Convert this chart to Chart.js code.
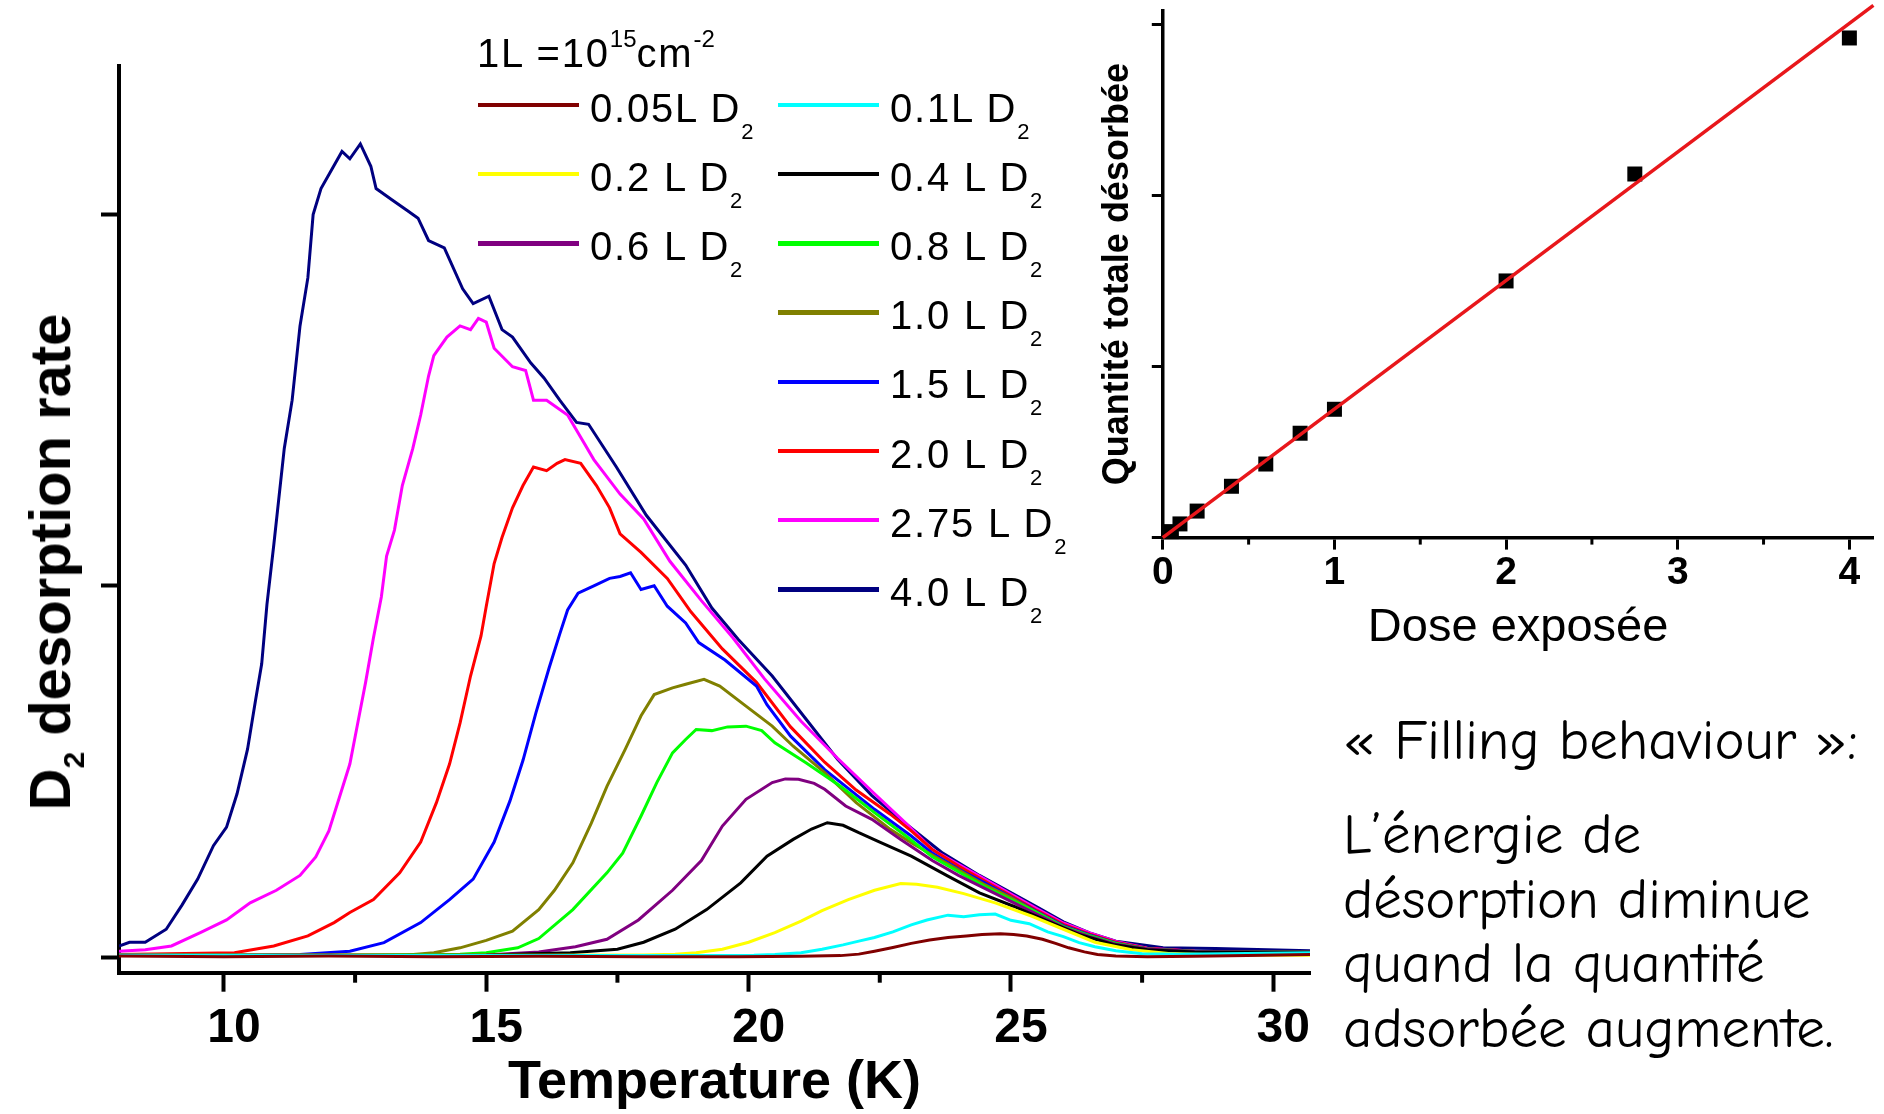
<!DOCTYPE html>
<html lang="fr">
<head>
<meta charset="utf-8">
<title>Désorption de D2 – filling behaviour</title>
<script src="https://cdn.jsdelivr.net/npm/chart.js@4.4.1/dist/chart.umd.min.js"></script>
<style>
  html, body { margin: 0; padding: 0; background: #fff; }
  body {
    width: 1884px; height: 1114px; position: relative; overflow: hidden;
    font-family: 'Liberation Sans', Arial, Helvetica, sans-serif; color: #000;
  }
  canvas { position: absolute; top: 0; }
  #tpdChart { left: 0; }
  #doseChart { left: 1080px; }

  .ytitle {
    position: absolute; left: 50px; top: 562px;
    transform: translate(-50%, -50%) rotate(-90deg);
    font-size: 58px; font-weight: bold; line-height: 1; white-space: nowrap;
  }
  .ytitle sub { font-size: 30px; position: relative; top: 14px; vertical-align: baseline; }

  .unit, .item {
    position: absolute; font-size: 40px; line-height: 40px;
    letter-spacing: 1.8px; white-space: nowrap;
  }
  .unit { left: 477px; top: 33px; }
  .unit sup { font-size: 24px; position: relative; top: -20px; vertical-align: baseline; letter-spacing: 0; }
  .item .swatch { position: absolute; left: 0; top: 15.25px; width: 101px; height: 4.5px; }
  .item .lab { position: absolute; left: 112px; top: 0; }
  .item sub { font-size: 22px; position: relative; top: 17px; vertical-align: baseline; }

  .note {
    position: absolute; left: 1343px; white-space: nowrap;
    font-family: 'Comic Sans MS', 'Comic Neue', Lato, sans-serif; font-size: 57px;
  }
  .note.head { top: 708px; line-height: 65px; }
  .note.body { top: 803px; line-height: 64.7px; }
</style>
</head>
<body>
<canvas id="tpdChart" width="1320" height="1114"></canvas>
<canvas id="doseChart" width="804" height="680"></canvas>

<div class="ytitle">D<sub>2</sub> desorption rate</div>
<div class="unit">1L =10<sup>15</sup>cm<sup>-2</sup></div>
<div id="legend"></div>

<div class="note head">« Filling behaviour »:</div>
<div class="note body">L’énergie de<br>désorption diminue<br>quand la quantité<br>adsorbée augmente.</div>

<script>
// Spectres TPD : température (K) / taux de désorption de D2 (u.a.), une paire par dose
const temp005 = [8.0, 10.0, 12.0, 14.0, 16.0, 18.0, 19.8, 21.0, 21.75, 22.1, 22.4, 22.75, 23.1, 23.45, 23.8, 24.15, 24.45, 24.8, 25.05, 25.3, 25.6, 25.85, 26.1, 26.4, 26.65, 27.0, 27.6, 28.5, 29.5, 30.7];
const rate005 = [0.003, 0.001, 0.003, 0.001, 0.002, 0.001, 0.001, 0.002, 0.004, 0.008, 0.016, 0.026, 0.037, 0.046, 0.053, 0.057, 0.061, 0.063, 0.061, 0.057, 0.048, 0.037, 0.025, 0.014, 0.007, 0.003, 0.001, 0.002, 0.004, 0.007];

const temp01 = [8.0, 12.0, 16.0, 19.0, 20.1, 20.5, 21.0, 21.4, 21.8, 22.1, 22.4, 22.75, 23.1, 23.4, 23.8, 24.1, 24.4, 24.7, 25.0, 25.35, 25.7, 26.0, 26.3, 26.6, 27.0, 27.5, 28.2, 29.5, 30.7];
const rate01 = [0.005, 0.004, 0.004, 0.004, 0.005, 0.007, 0.012, 0.021, 0.033, 0.043, 0.053, 0.068, 0.087, 0.1, 0.113, 0.109, 0.114, 0.116, 0.099, 0.09, 0.068, 0.055, 0.039, 0.028, 0.017, 0.009, 0.008, 0.01, 0.012];

const temp02 = [8.0, 12.0, 16.0, 18.0, 18.6, 19.0, 19.5, 20.0, 20.5, 21.0, 21.4, 21.9, 22.4, 22.9, 23.2, 23.6, 24.1, 24.7, 25.4, 26.0, 26.6, 27.3, 28.0, 29.0, 30.7];
const rate02 = [0.005, 0.005, 0.005, 0.006, 0.008, 0.012, 0.021, 0.04, 0.066, 0.097, 0.125, 0.155, 0.18, 0.198, 0.196, 0.188, 0.171, 0.146, 0.11, 0.075, 0.04, 0.02, 0.01, 0.006, 0.005];

const temp04 = [8.0, 12.0, 15.0, 16.6, 17.5, 18.0, 18.6, 19.2, 19.85, 20.35, 20.85, 21.2, 21.5, 21.8, 22.1, 22.5, 23.1, 23.8, 24.4, 25.05, 25.7, 26.3, 26.95, 27.6, 28.5, 30.7];
const rate04 = [0.005, 0.005, 0.006, 0.012, 0.021, 0.04, 0.075, 0.128, 0.2, 0.272, 0.317, 0.345, 0.362, 0.355, 0.335, 0.31, 0.272, 0.218, 0.173, 0.137, 0.097, 0.061, 0.034, 0.02, 0.014, 0.013];

const temp06 = [8.0, 12.0, 15.0, 16.0, 16.7, 17.3, 17.9, 18.55, 19.1, 19.5, 19.95, 20.45, 20.7, 20.95, 21.25, 21.45, 21.85, 22.35, 22.9, 23.5, 24.0, 24.5, 25.0, 25.5, 26.0, 26.5, 27.0, 27.6, 28.5, 30.7];
const rate06 = [0.005, 0.005, 0.006, 0.014, 0.028, 0.048, 0.1, 0.18, 0.26, 0.353, 0.425, 0.47, 0.48, 0.479, 0.468, 0.452, 0.407, 0.371, 0.317, 0.26, 0.22, 0.185, 0.15, 0.115, 0.08, 0.055, 0.035, 0.022, 0.015, 0.013];

const temp08 = [8.0, 12.0, 14.5, 15.0, 15.6, 16.0, 16.65, 17.3, 17.6, 17.95, 18.25, 18.55, 18.8, 19.0, 19.3, 19.6, 19.95, 20.25, 20.5, 21.1, 21.75, 22.4, 23.0, 23.5, 24.0, 24.5, 25.0, 25.5, 26.0, 26.5, 27.0, 27.6, 28.5, 30.7];
const rate08 = [0.005, 0.005, 0.008, 0.012, 0.025, 0.05, 0.128, 0.227, 0.28, 0.38, 0.47, 0.55, 0.586, 0.613, 0.61, 0.62, 0.622, 0.61, 0.577, 0.523, 0.46, 0.389, 0.326, 0.27, 0.23, 0.19, 0.155, 0.12, 0.082, 0.058, 0.037, 0.022, 0.015, 0.013];

const temp10 = [8.0, 12.0, 13.5, 14.0, 14.5, 15.0, 15.5, 16.0, 16.3, 16.65, 17.0, 17.3, 17.65, 17.95, 18.2, 18.55, 18.8, 19.15, 19.45, 19.95, 20.45, 20.85, 21.45, 22.05, 22.7, 23.1, 23.5, 24.0, 24.5, 25.0, 25.5, 26.0, 26.5, 27.0, 27.6, 28.5, 30.7];
const rate10 = [0.005, 0.005, 0.006, 0.012, 0.025, 0.045, 0.07, 0.128, 0.18, 0.254, 0.36, 0.46, 0.56, 0.65, 0.707, 0.725, 0.735, 0.748, 0.73, 0.676, 0.622, 0.568, 0.497, 0.416, 0.344, 0.308, 0.275, 0.235, 0.195, 0.16, 0.12, 0.082, 0.058, 0.037, 0.022, 0.015, 0.013];

const temp15 = [8.0, 10.0, 11.45, 12.4, 13.05, 13.75, 14.3, 14.75, 15.15, 15.45, 15.7, 15.95, 16.2, 16.4, 16.55, 16.75, 17.05, 17.35, 17.55, 17.75, 17.95, 18.2, 18.45, 18.8, 19.05, 19.55, 20.15, 20.35, 20.8, 21.45, 22.4, 23.1, 23.5, 24.0, 24.5, 25.0, 25.5, 26.0, 26.5, 27.0, 27.6, 28.5, 30.7];
const rate15 = [0.005, 0.005, 0.007, 0.016, 0.039, 0.093, 0.155, 0.21, 0.31, 0.42, 0.53, 0.66, 0.78, 0.87, 0.935, 0.98, 1.0, 1.02, 1.025, 1.035, 0.99, 1.0, 0.945, 0.9, 0.847, 0.8, 0.73, 0.68, 0.595, 0.505, 0.398, 0.326, 0.28, 0.237, 0.2, 0.162, 0.122, 0.085, 0.06, 0.038, 0.022, 0.015, 0.013];

const temp20 = [8.0, 10.2, 10.95, 11.6, 12.1, 12.4, 12.85, 13.35, 13.75, 14.05, 14.3, 14.5, 14.7, 14.9, 15.0, 15.15, 15.3, 15.5, 15.7, 15.9, 16.15, 16.35, 16.5, 16.8, 17.1, 17.35, 17.55, 17.95, 18.45, 18.9, 19.5, 20.15, 20.8, 21.45, 22.05, 22.7, 23.1, 23.5, 24.0, 24.5, 25.0, 25.5, 26.0, 26.5, 27.0, 27.6, 28.5, 30.7];
const rate20 = [0.007, 0.012, 0.03, 0.057, 0.093, 0.12, 0.155, 0.227, 0.31, 0.416, 0.52, 0.63, 0.757, 0.865, 0.945, 1.06, 1.13, 1.21, 1.27, 1.32, 1.31, 1.33, 1.34, 1.33, 1.27, 1.21, 1.14, 1.09, 1.02, 0.93, 0.83, 0.74, 0.62, 0.525, 0.45, 0.385, 0.34, 0.29, 0.245, 0.205, 0.165, 0.125, 0.088, 0.062, 0.04, 0.023, 0.016, 0.013];

const temp275 = [8.0, 8.5, 9.0, 9.55, 10.05, 10.5, 11.0, 11.45, 11.75, 12.0, 12.2, 12.4, 12.55, 12.7, 12.85, 13.0, 13.1, 13.25, 13.4, 13.6, 13.75, 13.9, 14.0, 14.25, 14.5, 14.7, 14.85, 15.0, 15.15, 15.5, 15.75, 15.9, 16.15, 16.55, 17.05, 17.55, 18.0, 18.5, 19.1, 19.7, 20.3, 21.0, 21.7, 22.4, 23.0, 23.5, 24.0, 24.5, 25.0, 25.5, 26.0, 26.5, 27.0, 27.6, 28.5, 30.7];
const rate275 = [0.016, 0.02, 0.03, 0.066, 0.1, 0.146, 0.18, 0.22, 0.27, 0.34, 0.43, 0.52, 0.63, 0.74, 0.86, 0.97, 1.08, 1.15, 1.27, 1.37, 1.46, 1.565, 1.62, 1.67, 1.7, 1.69, 1.72, 1.71, 1.64, 1.59, 1.58, 1.5, 1.5, 1.46, 1.34, 1.247, 1.18, 1.066, 0.96, 0.86, 0.75, 0.635, 0.535, 0.44, 0.36, 0.29, 0.25, 0.21, 0.17, 0.13, 0.092, 0.065, 0.042, 0.024, 0.016, 0.013];

const temp40 = [8.0, 8.2, 8.5, 8.9, 9.2, 9.5, 9.8, 10.05, 10.25, 10.45, 10.6, 10.72, 10.82, 10.95, 11.15, 11.3, 11.45, 11.6, 11.7, 11.85, 12.05, 12.25, 12.4, 12.6, 12.8, 12.9, 13.2, 13.5, 13.7, 13.9, 14.2, 14.55, 14.75, 15.05, 15.3, 15.5, 15.85, 16.1, 16.4, 16.72, 16.95, 17.48, 18.05, 18.8, 19.3, 19.8, 20.45, 21.1, 21.7, 22.35, 22.9, 23.7, 24.4, 25.05, 25.5, 26.0, 26.5, 27.0, 27.9, 28.9, 30.7];
const rate40 = [0.03, 0.04, 0.04, 0.075, 0.14, 0.21, 0.3, 0.35, 0.44, 0.56, 0.69, 0.79, 0.95, 1.11, 1.37, 1.5, 1.7, 1.83, 2.0, 2.07, 2.12, 2.17, 2.15, 2.19, 2.13, 2.07, 2.04, 2.01, 1.99, 1.93, 1.91, 1.8, 1.76, 1.78, 1.69, 1.67, 1.6, 1.56, 1.5, 1.44, 1.435, 1.32, 1.19, 1.056, 0.94, 0.856, 0.757, 0.64, 0.532, 0.435, 0.37, 0.28, 0.22, 0.17, 0.135, 0.095, 0.065, 0.043, 0.025, 0.023, 0.017];

const doseLabels = ['0.05L', '0.1L', '0.2 L', '0.4 L', '0.6 L', '0.8 L', '1.0 L', '1.5 L', '2.0 L', '2.75 L', '4.0 L'];
const lineColors = ['#800000', '#00ffff', '#ffff00', '#000000', '#800080', '#00ff00', '#808000', '#0000ff', '#ff0000', '#ff00ff', '#000080'];
const temps = [temp005, temp01, temp02, temp04, temp06, temp08, temp10, temp15, temp20, temp275, temp40];
const rates = [rate005, rate01, rate02, rate04, rate06, rate08, rate10, rate15, rate20, rate275, rate40];

// Encart : quantité totale désorbée en fonction de la dose
const doseExposed = [0.05, 0.1, 0.2, 0.4, 0.6, 0.8, 1.0, 2.0, 2.75, 4.0];
const totalDesorbed = [0.035, 0.08, 0.155, 0.3, 0.43, 0.61, 0.75, 1.5, 2.125, 2.92];
const fitDose = [0, 4.14];
const fitTotal = [0, 3.11];

Chart.defaults.font.family = "'Liberation Sans', Arial, Helvetica, sans-serif";
Chart.defaults.color = '#000';

// petites graduations entre les graduations principales de l'axe x
const minorTicks = {
  id: 'minorTicks',
  afterDraw(chart, args, opts) {
    const scale = chart.scales.x;
    const ctx = chart.ctx;
    ctx.save();
    ctx.strokeStyle = '#000';
    ctx.lineWidth = opts.width;
    for (let v = Math.ceil(scale.min / opts.step) * opts.step; v <= scale.max + 1e-9; v += opts.step) {
      const r = v / opts.major;
      if (Math.abs(r - Math.round(r)) < 1e-6) continue;
      const px = scale.getPixelForValue(v);
      ctx.beginPath();
      ctx.moveTo(px, scale.top);
      ctx.lineTo(px, scale.top + opts.length);
      ctx.stroke();
    }
    ctx.restore();
  }
};

const axisBorder = width => ({ color: '#000', width: width });
const axisGrid = (len, width) => ({
  drawOnChartArea: false, drawTicks: true, tickLength: len,
  tickWidth: width, tickColor: '#000', color: '#000'
});

const tpdChart = new Chart(document.getElementById('tpdChart'), {
  type: 'line',
  data: {
    datasets: doseLabels.map((lab, i) => ({
      label: lab + ' D2',
      data: temps[i].map((t, k) => ({ x: t, y: rates[i][k] })),
      borderColor: lineColors[i],
      borderWidth: 3,
      pointRadius: 0,
      tension: 0,
      fill: false
    }))
  },
  options: {
    responsive: false,
    animation: false,
    events: [],
    layout: { padding: { top: 66, right: 10, bottom: 0, left: 0 } },
    plugins: {
      legend: { display: false },
      tooltip: { enabled: false },
      minorTicks: { step: 2.5, major: 5, length: 10, width: 4 }
    },
    scales: {
      x: {
        type: 'linear', min: 8, max: 30.7,
        border: axisBorder(4),
        grid: axisGrid(19, 4),
        ticks: {
          stepSize: 5, includeBounds: false, padding: 8.5, labelOffset: 10, maxRotation: 0,
          font: { size: 48, weight: 'bold' }
        },
        title: {
          display: true, text: 'Temperature (K)',
          font: { size: 54, weight: 'bold', lineHeight: 1 },
          padding: { top: 0, bottom: 4 }
        },
        afterFit: s => { s.height = 141.3; }
      },
      y: {
        type: 'linear', min: -0.042, max: 2.4,
        border: axisBorder(4),
        grid: axisGrid(18, 4),
        ticks: { stepSize: 1, includeBounds: false, display: false },
        afterFit: s => { s.width = 119; }
      }
    }
  },
  plugins: [minorTicks]
});

const doseChart = new Chart(document.getElementById('doseChart'), {
  type: 'scatter',
  data: {
    datasets: [
      {
        label: 'ajustement linéaire',
        data: fitDose.map((d, i) => ({ x: d, y: fitTotal[i] })),
        showLine: true,
        borderColor: '#e8171b',
        borderWidth: 3.5,
        pointRadius: 0,
        clip: false
      },
      {
        label: 'quantité désorbée',
        data: doseExposed.map((d, i) => ({ x: d, y: totalDesorbed[i] })),
        pointStyle: 'rect',
        pointRadius: 10.6,
        backgroundColor: '#000',
        borderWidth: 0,
        clip: false
      }
    ]
  },
  options: {
    responsive: false,
    animation: false,
    events: [],
    layout: { padding: { top: 9.5, right: 0, bottom: 0, left: 0 } },
    plugins: {
      legend: { display: false },
      tooltip: { enabled: false },
      minorTicks: { step: 0.5, major: 1, length: 7, width: 3 }
    },
    scales: {
      x: {
        min: 0, max: 4.14,
        border: axisBorder(3.5),
        grid: axisGrid(12, 3),
        ticks: { stepSize: 1, includeBounds: false, padding: 0, maxRotation: 0, font: { size: 39, weight: 'bold' } },
        title: {
          display: true, text: 'Dose exposée',
          font: { size: 47, lineHeight: 1 },
          padding: { top: 0, bottom: 28 }
        },
        afterFit: s => { s.height = 142.4; }
      },
      y: {
        min: 0, max: 3.08,
        border: axisBorder(3.5),
        grid: axisGrid(11, 3),
        ticks: { stepSize: 1, includeBounds: false, display: false },
        title: {
          display: true, text: 'Quantité totale désorbée',
          font: { size: 36, weight: 'bold', lineHeight: 1 },
          padding: { top: 20.5, bottom: 0 }
        },
        afterFit: s => { s.width = 82.8; }
      }
    }
  },
  plugins: [minorTicks]
});

// Légende sur deux colonnes, construite à partir des jeux de données
const legendSlots = [[0, 0], [1, 0], [0, 1], [1, 1], [0, 2], [1, 2], [1, 3], [1, 4], [1, 5], [1, 6], [1, 7]];
const colLeft = [478, 778];
const legendBox = document.getElementById('legend');
tpdChart.data.datasets.forEach((ds, i) => {
  const [col, row] = legendSlots[i];
  const lineY = 105 + 69.2 * row;
  const item = document.createElement('div');
  item.className = 'item';
  item.style.left = colLeft[col] + 'px';
  item.style.top = (lineY - 17.5) + 'px';
  item.innerHTML = '<span class="swatch" style="background:' + ds.borderColor + '"></span>' +
    '<span class="lab">' + doseLabels[i] + ' D<sub>2</sub></span>';
  legendBox.appendChild(item);
});
</script>
</body>
</html>
